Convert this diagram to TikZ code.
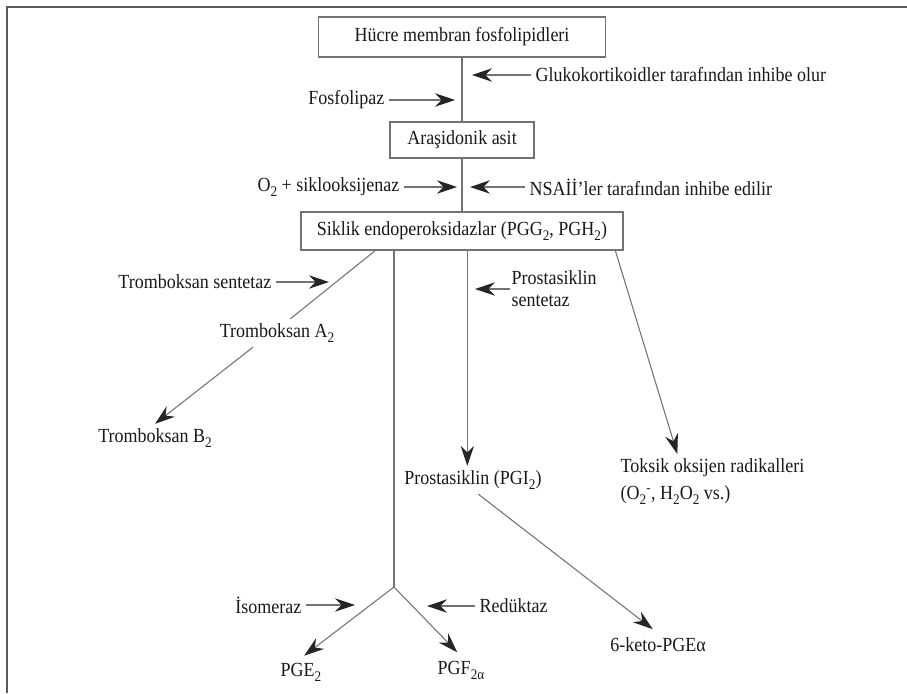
\documentclass[tikz,border=0pt]{standalone}
\usepackage{fontspec}
\setmainfont{Liberation Serif}[FakeStretch=0.9]
\usetikzlibrary{arrows.meta,positioning}
\definecolor{linegray}{RGB}{115,115,115}
\definecolor{txtgray}{RGB}{25,25,25}
\newcommand{\lowsub}[1]{\raisebox{-0.55ex}{\fontsize{11}{11}\selectfont #1}}

\begin{document}
\begin{tikzpicture}[
  x=0.75pt, y=-0.75pt,
  every node/.style={font=\fontsize{15}{17}\selectfont, text=txtgray},
  box/.style={rectangle, draw=linegray, line width=0.8pt},
  flow/.style={draw=linegray, line width=0.8pt},
  arr/.style={flow, -{Stealth[length=15pt, width=10pt, inset=5pt, color=black!85]}},
  frame/.style={draw=black!65, line width=1.5pt}
]
\useasboundingbox (0,0) rectangle (907,693);
\draw[frame] (7,693) -- (7,7) -- (907,7);

% Main chain
\node[box, minimum width=215pt, minimum height=30pt] (memb) at (462,37) {Hücre membran fosfolipidleri};
\node[box, minimum width=108pt, minimum height=27pt] (arak) at (462,140) {Araşidonik asit};
\node[box, minimum width=241.5pt, minimum height=28.5pt] (endo) at (462,231) {Siklik endoperoksidazlar (PGG\lowsub{2}, PGH\lowsub{2})};

\draw[flow] (memb) -- (arak);
\draw[flow] (arak) -- (endo);

% Enzymes and inhibitors
\node[anchor=west] (gluk) at (531,75) {Glukokortikoidler tarafından inhibe olur};
\node[anchor=east] (fosf) at (389,100) {Fosfolipaz};
\node[anchor=east] (siklo) at (404,187) {O\lowsub{2} + siklooksijenaz};
\node[anchor=west] (nsai) at (525,187) {NSAİİ’ler tarafından inhibe edilir};

\coordinate (glukT) at (472,75);
\coordinate (fosfT) at (455,100);
\coordinate (sikloT) at (457,187);
\coordinate (nsaiT) at (470,187);

\draw[arr] (gluk) -- (glukT);
\draw[arr] (fosf) -- (fosfT);
\draw[arr] (siklo) -- (sikloT);
\draw[arr] (nsai) -- (nsaiT);

% Tromboksan branch
\node (txa) at (277,333) {Tromboksan A\lowsub{2}};
\node (txb) at (155,438) {Tromboksan B\lowsub{2}};
\node[anchor=east] (tsent) at (276,282) {Tromboksan sentetaz};
\coordinate (tsentT) at (329,282);

\draw[flow] ([xshift=-65pt]endo.south) -- ([xshift=10pt]txa.north);
\draw[arr] ([xshift=-18pt]txa.south) -- (txb.north);
\draw[arr] (tsent) -- (tsentT);

% Prostasiklin branch
\node (pgi) at (473,480) {Prostasiklin (PGI\lowsub{2})};
\node[anchor=west, align=left, inner xsep=1pt, font=\fontsize{15}{16.5}\selectfont] (psent) at (510,289) {Prostasiklin\\sentetaz};
\node (keto) at (658,645) {6-keto-PGEα};
\coordinate (psentT) at (475,289);

\draw[arr] ([xshift=4pt]endo.south) -- ([xshift=4pt]endo.south |- pgi.north);
\draw[arr] (psent) -- (psentT);
\draw[arr, shorten >=5pt] ([xshift=4pt]pgi.south) -- (keto.north);

% Radicals
\node[anchor=north west, align=left, font=\fontsize{15}{20}\selectfont] (toks) at (616,454) {Toksik oksijen radikalleri\\(O\lowsub{2}\textsuperscript{-}, H\lowsub{2}O\lowsub{2} vs.)};
\draw[arr] ([xshift=115pt]endo.south) -- ([xshift=46pt]toks.north west);

% PGE2 / PGF2a
\coordinate (jn) at (394,587);
\node (pge) at (301,672) {PGE\lowsub{2}};
\node (pgf) at (461,670) {PGF\lowsub{2α}};
\node[anchor=east] (isom) at (306,605) {İsomeraz};
\node[anchor=west] (reduk) at (475,606) {Redüktaz};
\coordinate (isomT) at (355,605);
\coordinate (redukT) at (427,606);

\draw[flow] ([xshift=-51pt]endo.south) -- (jn);
\draw[arr, shorten >=3pt] (jn) -- (pge.north);
\draw[arr, shorten >=4pt] (jn) -- (pgf.north);
\draw[arr] (isom) -- (isomT);
\draw[arr] (reduk) -- (redukT);

\end{tikzpicture}
\end{document}
